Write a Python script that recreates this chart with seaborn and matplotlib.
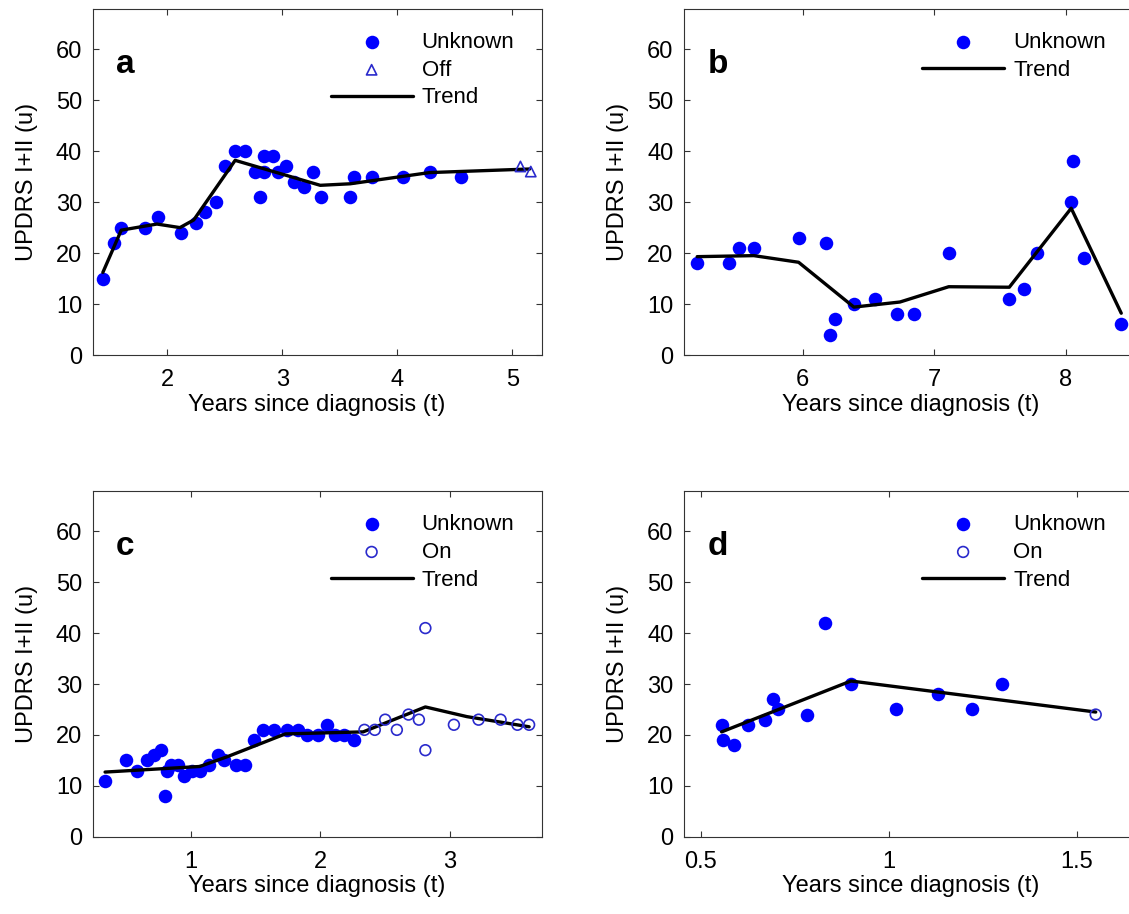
"""
UPDRS I+II progression for four subjects (a-d), with piecewise trend lines.
Output: out.png
"""

import matplotlib
matplotlib.use("Agg")
import matplotlib.pyplot as plt
import seaborn as sns

sns.set_theme(style="ticks")
plt.rcParams["font.family"] = ["Liberation Sans", "DejaVu Sans"]
plt.rcParams["text.color"] = "black"
plt.rcParams["axes.labelcolor"] = "black"

BLUE = "#0000ff"
OPEN_BLUE = "#2a2acc"

# ---- panel a ----
a_unknown_t = [1.44, 1.54, 1.60, 1.81, 1.92, 2.12, 2.25, 2.33, 2.42, 2.50, 2.59,
               2.68, 2.76, 2.81, 2.84, 2.84, 2.92, 2.96, 3.03, 3.10, 3.19, 3.27,
               3.34, 3.59, 3.62, 3.78, 4.05, 4.28, 4.55]
a_unknown_u = [15, 22, 25, 25, 27, 24, 26, 28, 30, 37, 40,
               40, 36, 31, 36, 39, 39, 36, 37, 34, 33, 36,
               31, 31, 35, 35, 35, 36, 35]
a_off_t = [5.07, 5.16]
a_off_u = [37, 36]
a_trend_t = [1.44, 1.60, 1.91, 2.11, 2.23, 2.59, 3.33, 3.59, 4.28, 5.15]
a_trend_u = [16.2, 24.5, 25.7, 25.0, 26.5, 38.2, 33.3, 33.6, 35.8, 36.5]

# ---- panel b ----
b_unknown_t = [5.20, 5.44, 5.52, 5.63, 5.97, 6.18, 6.21, 6.25, 6.39, 6.55,
               6.72, 6.85, 7.11, 7.57, 7.68, 7.78, 8.04, 8.05, 8.14, 8.42]
b_unknown_u = [18, 18, 21, 21, 23, 22, 4, 7, 10, 11,
               8, 8, 20, 11, 13, 20, 30, 38, 19, 6]
b_trend_t = [5.20, 5.63, 5.97, 6.39, 6.74, 7.11, 7.57, 8.04, 8.42]
b_trend_u = [19.3, 19.5, 18.2, 9.4, 10.4, 13.4, 13.3, 28.8, 8.2]

# ---- panel c ----
c_unknown_t = [0.34, 0.50, 0.59, 0.66, 0.72, 0.77, 0.80, 0.82, 0.85, 0.90,
               0.95, 1.01, 1.07, 1.14, 1.21, 1.26, 1.35, 1.42, 1.49, 1.56,
               1.64, 1.74, 1.83, 1.90, 1.98, 2.05, 2.11, 2.18, 2.26]
c_unknown_u = [11, 15, 13, 15, 16, 17, 8, 13, 14, 14,
               12, 13, 13, 14, 16, 15, 14, 14, 19, 21,
               21, 21, 21, 20, 20, 22, 20, 20, 19]
c_on_t = [2.34, 2.42, 2.50, 2.59, 2.68, 2.76, 2.81, 2.81, 3.03, 3.22, 3.39, 3.52, 3.61]
c_on_u = [21, 21, 23, 21, 24, 23, 41, 17, 22, 23, 23, 22, 22]
c_trend_t = [0.34, 1.07, 1.28, 1.73, 2.33, 2.81, 3.13, 3.61]
c_trend_u = [12.7, 13.8, 15.7, 20.2, 20.6, 25.5, 23.6, 21.6]

# ---- panel d ----
d_unknown_t = [0.556, 0.560, 0.590, 0.627, 0.671, 0.693, 0.705, 0.782, 0.831,
               0.900, 1.020, 1.132, 1.223, 1.302]
d_unknown_u = [22, 19, 18, 22, 23, 27, 25, 24, 42, 30, 25, 28, 25, 30]
d_on_t = [1.551]
d_on_u = [24]
d_trend_t = [0.556, 0.900, 1.551]
d_trend_u = [20.6, 30.6, 24.5]

W, H = 1129, 914


def make_axes(fig, left, top, width, height):
    return fig.add_axes([left / W, 1 - (top + height) / H, width / W, height / H])


def style_axes(ax, xlim, xticks, xticklabels=None):
    ax.set_xlim(*xlim)
    ax.set_ylim(0, 68)
    ax.set_xticks(xticks)
    if xticklabels is not None:
        ax.set_xticklabels(xticklabels)
    ax.set_yticks(range(0, 70, 10))
    ax.tick_params(direction="in", top=True, right=True, length=4, width=0.8,
                   color="#333333", labelsize=17, labelcolor="black")
    ax.tick_params(axis="x", pad=10)
    ax.tick_params(axis="y", pad=7.5)
    for sp in ax.spines.values():
        sp.set_visible(True)
        sp.set_color("#333333")
        sp.set_linewidth(0.8)
    ax.set_xlabel("Years since diagnosis (t)", fontsize=17, labelpad=2)
    ax.set_ylabel("UPDRS I+II (u)", fontsize=17, labelpad=13)


def draw_panel(ax, letter, unk_t, unk_u, trend_t, trend_u, width_px,
               extra=None, extra_label=None, extra_marker=None):
    sns.lineplot(x=trend_t, y=trend_u, ax=ax, color="black", linewidth=2.4,
                 estimator=None, sort=False, label="Trend", zorder=3)
    sns.scatterplot(x=unk_t, y=unk_u, ax=ax, color=BLUE, s=95, linewidth=0,
                    label="Unknown", zorder=2)
    if extra is not None:
        ms = 55 if extra_marker == "^" else 60
        sns.scatterplot(x=extra[0], y=extra[1], ax=ax, marker=extra_marker, s=ms,
                        facecolor="none", edgecolor=OPEN_BLUE, linewidth=1.2,
                        label=extra_label, zorder=4)
    handles, labels = ax.get_legend_handles_labels()
    order = ["Unknown", extra_label, "Trend"]
    pairs = dict(zip(labels, handles))
    keep = [lab for lab in order if lab in pairs]
    # legend and panel letter sit at fixed pixel offsets from the left spine
    ax.legend([pairs[lab] for lab in keep], keep, loc="upper left",
              bbox_to_anchor=(238 / width_px, 0.933), frameon=False, fontsize=16,
              handlelength=3.7, handletextpad=0.4, labelspacing=0.31,
              borderpad=0, borderaxespad=0)
    ax.text(23.5 / width_px, 0.815, letter, transform=ax.transAxes, fontsize=24,
            fontweight="bold", va="baseline", color="black")


fig = plt.figure(figsize=(W / 100, H / 100), dpi=100)

LEFT_W = 449.2
# right-hand panels run slightly past the figure edge, as in the cropped original
RIGHT_W = 454

ax_a = make_axes(fig, 92.5, 8.5, LEFT_W, 346.5)
draw_panel(ax_a, "a", a_unknown_t, a_unknown_u, a_trend_t, a_trend_u, LEFT_W,
           extra=(a_off_t, a_off_u), extra_label="Off", extra_marker="^")
style_axes(ax_a, (1.35, 5.255), [2, 3, 4, 5])

ax_b = make_axes(fig, 684, 8.5, RIGHT_W, 346.5)
draw_panel(ax_b, "b", b_unknown_t, b_unknown_u, b_trend_t, b_trend_u, RIGHT_W)
style_axes(ax_b, (5.10, 5.10 + RIGHT_W / 131.7), [6, 7, 8])

ax_c = make_axes(fig, 92.5, 490.7, LEFT_W, 346)
draw_panel(ax_c, "c", c_unknown_t, c_unknown_u, c_trend_t, c_trend_u, LEFT_W,
           extra=(c_on_t, c_on_u), extra_label="On", extra_marker="o")
style_axes(ax_c, (0.243, 3.707), [1, 2, 3])

ax_d = make_axes(fig, 684, 490.7, RIGHT_W, 346)
draw_panel(ax_d, "d", d_unknown_t, d_unknown_u, d_trend_t, d_trend_u, RIGHT_W,
           extra=(d_on_t, d_on_u), extra_label="On", extra_marker="o")
style_axes(ax_d, (0.456, 0.456 + RIGHT_W / 376.0), [0.5, 1, 1.5], ["0.5", "1", "1.5"])

fig.savefig("out.png", dpi=100, facecolor="white")
